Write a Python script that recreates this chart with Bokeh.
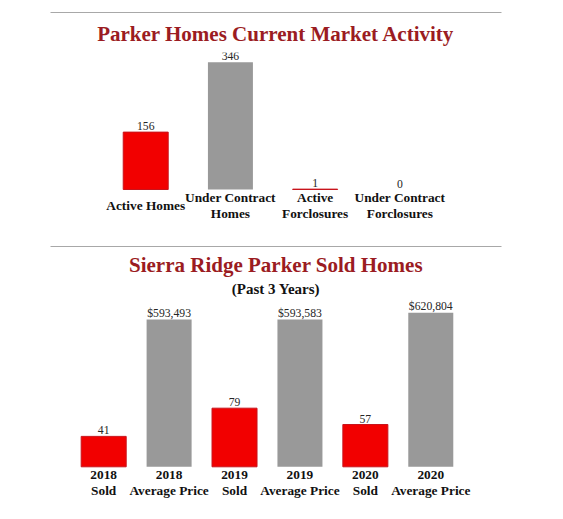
from bokeh.plotting import figure
from bokeh.layouts import column
from bokeh.models import ColumnDataSource, Range1d, LinearAxis, FixedTicker, Title, Spacer
from bokeh.core.properties import value
from bokeh.embed import file_html
from bokeh.resources import INLINE

# current market activity
market_labels = ["Active Homes", "Under Contract\nHomes", "Active\nForclosures", "Under Contract\nForclosures"]
market_counts = [156, 346, 1, 0]

# sold homes, past 3 years
sold_years = ["2018", "2019", "2020"]
sold_counts = [41, 79, 57]
avg_prices = [593493, 593583, 620804]

RED = "#f20000"
GRAY = "#999999"
TITLE_RED = "#9b1c22"
SERIF = value("Liberation Serif")


def make_figure(x_range, y_range, frame_height, border_bottom):
    p = figure(x_range=x_range, y_range=y_range, frame_width=451, frame_height=frame_height,
               output_backend="svg", toolbar_location=None, x_axis_location=None,
               y_axis_location=None, min_border_left=50, min_border_right=12,
               min_border_top=0, min_border_bottom=border_bottom)
    p.outline_line_color = None
    p.xgrid.visible = False
    p.ygrid.visible = False
    return p


def add_titles(p, titles):
    # titles are stacked from the frame outwards, then the grey rule on top
    for text, size, color, standoff, valign in reversed(titles):
        p.add_layout(Title(text=text, align="center", vertical_align=valign,
                           text_font="Liberation Serif", text_font_style="bold",
                           text_font_size=size, text_color=color,
                           standoff=standoff, offset=0), "above")
    rule = LinearAxis(ticker=FixedTicker(ticks=[]), axis_line_color="#a8a8a8",
                      major_tick_out=0, minor_tick_out=0, major_tick_in=0,
                      minor_tick_in=0, major_label_standoff=0)
    p.add_layout(rule, "above")


def add_category_labels(p, x, labels):
    src = ColumnDataSource(dict(x=x, y=[0] * len(x), text=labels))
    p.text("x", "y", text="text", source=src, text_align="center", text_baseline="middle",
           y_offset=16, text_font=SERIF, text_font_style="bold", text_font_size="10pt",
           text_color="#111111", text_line_height=1.05)


def add_value_labels(p, x, y, labels, **kw):
    src = ColumnDataSource(dict(x=x, y=y, text=labels))
    p.text("x", "y", text="text", source=src, text_align="center", text_baseline="alphabetic",
           y_offset=-6, text_font=SERIF, text_font_size="11.7px", text_color="#262626", **kw)


# --- top chart
n1 = len(market_labels)
top_x = list(range(n1))
p1 = make_figure(Range1d(-1.124, 4.2), Range1d(-108.7, 372.4), 177, 17)
add_titles(p1, [("Parker Homes Current Market Activity", "21px", TITLE_RED, 14, "bottom")])

red_idx = [0, 2]
gray_idx = [1, 3]
p1.vbar(x=[top_x[i] for i in red_idx], top=[market_counts[i] for i in red_idx], width=0.531,
        fill_color=RED, line_color="#c8141c", line_width=1)
p1.vbar(x=[top_x[i] for i in gray_idx], top=[market_counts[i] for i in gray_idx], width=0.531,
        fill_color=GRAY, line_color=None)
add_value_labels(p1, top_x, market_counts, [str(c) for c in market_counts])
add_category_labels(p1, top_x, market_labels)

# --- bottom chart
sold_x = list(range(0, 2 * len(sold_years), 2))
price_x = [x + 1 for x in sold_x]
bottom_labels = []
for yr in sold_years:
    bottom_labels += [yr + "\nSold", yr + "\nAverage Price"]

p2 = make_figure(Range1d(-0.813, 6.081), Range1d(-50.8, 226.8), 206, 8)
p2.extra_y_ranges = {"price": Range1d(-151894, 678082)}
add_titles(p2, [("Sierra Ridge Parker Sold Homes", "21px", TITLE_RED, 8, "bottom"),
                ("(Past 3 Years)", "15px", "#111111", 0, "top")])

p2.vbar(x=sold_x, top=sold_counts, width=0.688, fill_color=RED, line_color="#c8141c", line_width=1)
p2.vbar(x=price_x, top=avg_prices, width=0.688, fill_color=GRAY, line_color=None,
        y_range_name="price")
add_value_labels(p2, sold_x, sold_counts, [str(c) for c in sold_counts])
add_value_labels(p2, price_x, avg_prices, ["${:,}".format(v) for v in avg_prices],
                 y_range_name="price")
add_category_labels(p2, sold_x + price_x, [bottom_labels[i] for i in sold_x + price_x])

layout = column(Spacer(height=12, width=10), p1, p2)
open("out.html", "w").write(file_html(layout, INLINE))
